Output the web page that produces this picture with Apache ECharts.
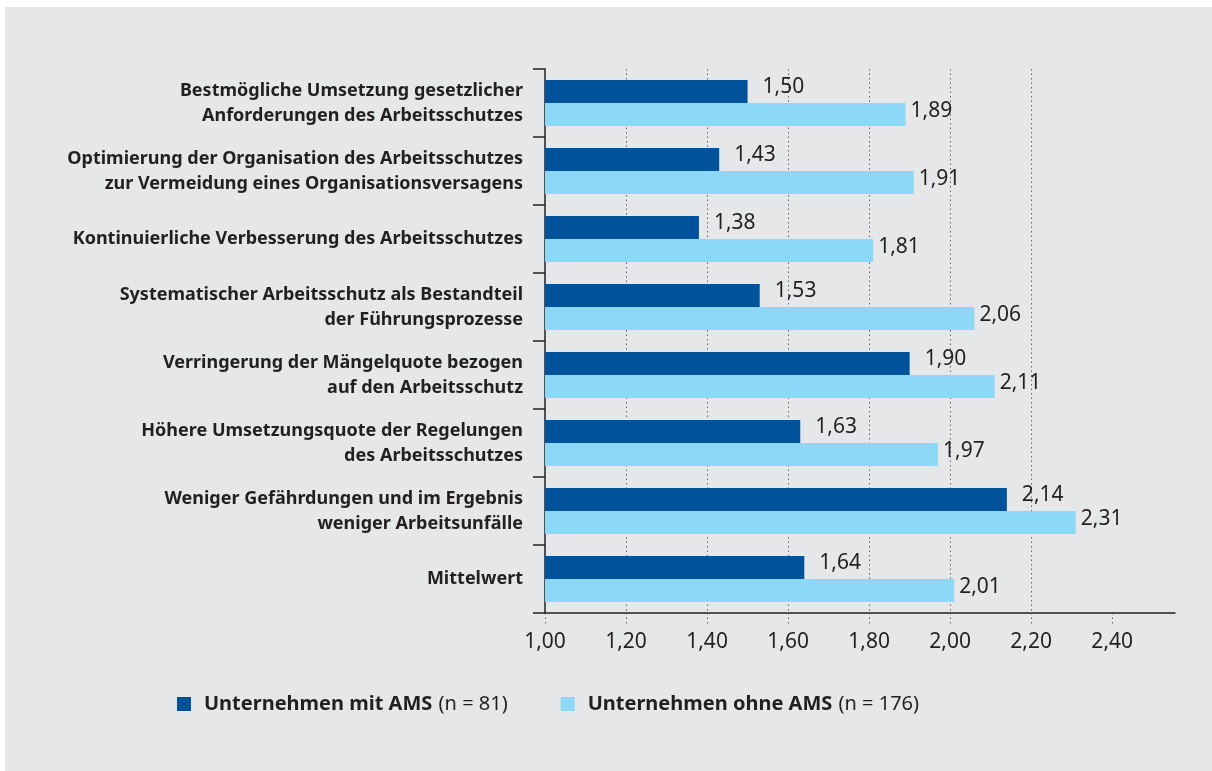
<!DOCTYPE html>
<html>
<head>
<meta charset="utf-8">
<script src="https://cdn.jsdelivr.net/npm/echarts@6/dist/echarts.min.js"></script>
<style>
  html, body { margin: 0; padding: 0; background: #ffffff; }
  #main { position: absolute; left: 5px; top: 7px; width: 1207px; height: 764px; background: #e6e7e9; }
</style>
</head>
<body>
<div id="main"></div>
<script>
var categories = [
  'Bestmögliche Umsetzung gesetzlicher\nAnforderungen des Arbeitsschutzes',
  'Optimierung der Organisation des Arbeitsschutzes\nzur Vermeidung eines Organisationsversagens',
  'Kontinuierliche Verbesserung des Arbeitsschutzes',
  'Systematischer Arbeitsschutz als Bestandteil\nder Führungsprozesse',
  'Verringerung der Mängelquote bezogen\nauf den Arbeitsschutz',
  'Höhere Umsetzungsquote der Regelungen\ndes Arbeitsschutzes',
  'Weniger Gefährdungen und im Ergebnis\nweniger Arbeitsunfälle',
  'Mittelwert'
]
var mitAms = [1.50, 1.43, 1.38, 1.53, 1.90, 1.63, 2.14, 1.64]
var ohneAms = [1.89, 1.91, 1.81, 2.06, 2.11, 1.97, 2.31, 2.01]
var seriesNames = ['Unternehmen mit AMS', 'Unternehmen ohne AMS']
var sampleSizes = [81, 176]
var xTicks = [1.0, 1.2, 1.4, 1.6, 1.8, 2.0, 2.2, 2.4]

var font = 'Noto Sans'
var textColor = '#231f20'

function fmt(v) {
  return v.toFixed(2).replace('.', ',')
}

var myChart = echarts.init(document.getElementById('main'))

myChart.setOption({
  animation: false,
  textStyle: { fontFamily: font },
  grid: {
    left: 540,
    right: 37,
    top: 62,
    bottom: 158
  },
  legend: {
    left: 167,
    top: 682,
    icon: 'rect',
    itemWidth: 14,
    itemHeight: 14,
    itemGap: 53,
    data: seriesNames,
    formatter: function (name) {
      var i = seriesNames.indexOf(name)
      return '{b|' + name + '}  {n|(n = ' + sampleSizes[i] + ')}'
    },
    textStyle: {
      padding: [0, 0, 0, 8],
      rich: {
        b: { fontFamily: font, fontSize: 20, fontWeight: 'bold', color: textColor },
        n: { fontFamily: font, fontSize: 20, color: textColor }
      }
    }
  },
  xAxis: {
    type: 'value',
    min: 1,
    max: 2.555,
    interval: 0.2,
    axisLine: { show: true, lineStyle: { color: '#231f20', width: 1.5 } },
    axisTick: {
      show: true,
      customValues: xTicks,
      length: 12,
      lineStyle: { color: '#666', type: [1.5, 3] }
    },
    axisLabel: {
      customValues: xTicks,
      margin: 19,
      fontSize: 21,
      color: textColor,
      formatter: function (v) { return fmt(v) }
    },
    splitLine: {
      show: true,
      showMinLine: false,
      showMaxLine: false,
      lineStyle: { color: '#666', type: [1.5, 3] }
    }
  },
  yAxis: {
    type: 'category',
    inverse: true,
    data: categories,
    axisLine: { show: true, lineStyle: { color: '#231f20', width: 1.5 } },
    axisTick: { show: true, length: 12, lineStyle: { color: '#231f20', width: 1.5 } },
    axisLabel: {
      margin: 22,
      fontSize: 18,
      fontWeight: 'bold',
      lineHeight: 25,
      color: textColor,
      align: 'right'
    }
  },
  series: [
    {
      name: seriesNames[0],
      type: 'bar',
      data: mitAms,
      barGap: '0%',
      barCategoryGap: '32%',
      itemStyle: { color: '#00529b' },
      label: {
        show: true,
        position: 'right',
        distance: 15,
        offset: [0, -4],
        fontSize: 21,
        color: textColor,
        formatter: function (p) { return fmt(p.value) }
      }
    },
    {
      name: seriesNames[1],
      type: 'bar',
      data: ohneAms,
      itemStyle: { color: '#8dd7f7' },
      label: {
        show: true,
        position: 'right',
        distance: 5,
        offset: [0, -4],
        fontSize: 21,
        color: textColor,
        formatter: function (p) { return fmt(p.value) }
      }
    }
  ]
})
</script>
</body>
</html>
